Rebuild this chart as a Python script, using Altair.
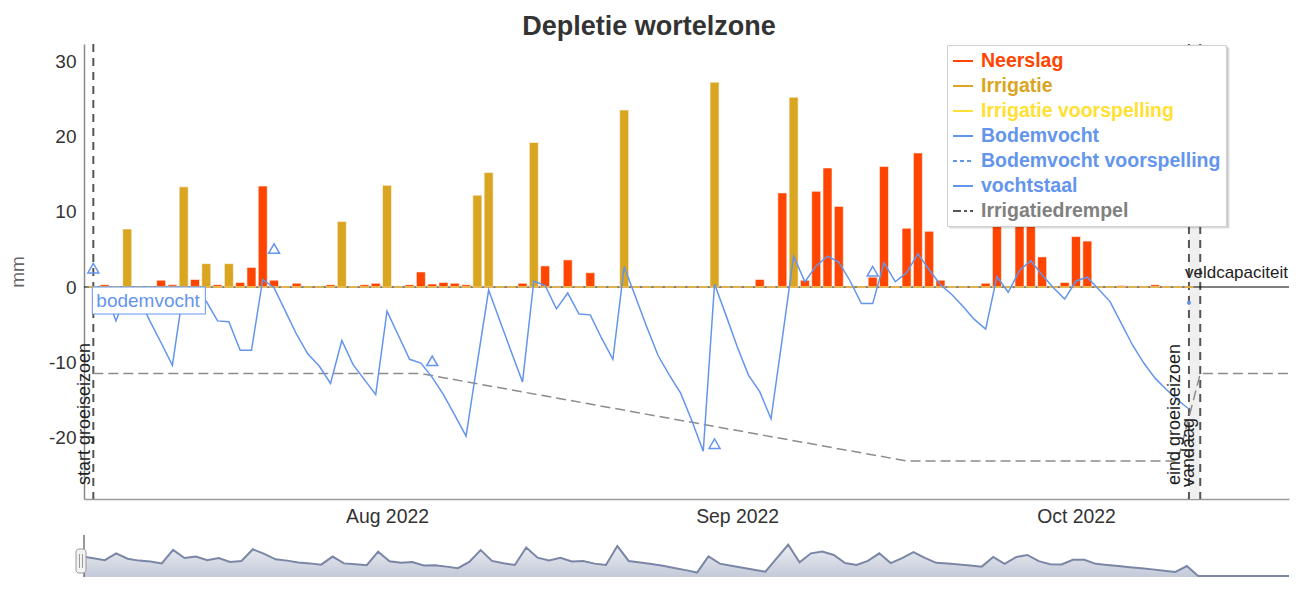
import altair as alt
import pandas as pd


def ms(d):
    return int(pd.Timestamp(d, tz="UTC").value // 10**6)


DAY = 86400000

# ---------------- data ----------------
season_days = [d.strftime("%Y-%m-%d") for d in pd.date_range("2022-07-06", "2022-10-11", freq="D")]

bodemvocht_jul = [-1.5, -0.3, -4.5, -0.7, -1.3, -4.5, -7.4, -10.4, -0.2, -1.0, -1.9, -4.5, -4.6,
                  -8.4, -8.4, 1.0, -0.1, -3.2, -6.3, -8.9, -10.5, -12.8, -7.1, -10.3, -12.3, -14.3]
bodemvocht_aug = [-3.2, -6.4, -9.6, -10.1, -12.0, -14.3, -17.0, -19.8, -10.0, -0.4, -4.5, -8.6,
                  -12.6, 0.8, 0.2, -2.9, -0.8, -3.6, -3.7, -6.8, -9.6, 2.7, -1.3, -5.3, -9.1,
                  -11.7, -14.1, -17.8, -21.8, 0.4, -3.7]
bodemvocht_sep = [-7.9, -11.7, -13.9, -17.5, -6.8, 4.1, 0.7, 2.8, 4.1, 3.3, 0.8, -2.2, -2.2, 3.2,
                  0.7, 1.9, 4.4, 2.3, 0.3, -1.0, -2.6, -4.3, -5.6, 1.4, -0.7, 2.2, 3.5, 1.6, -0.1, -1.6]
bodemvocht_oct = [0.8, 1.3, -0.3, -1.9, -4.8, -7.7, -10.1, -12.1, -13.6, -15.0, -16.2]
bodemvocht_mm = bodemvocht_jul + bodemvocht_aug + bodemvocht_sep + bodemvocht_oct

neerslag_dates = ["2022-07-07", "2022-07-12", "2022-07-13", "2022-07-15", "2022-07-17", "2022-07-19",
                  "2022-07-20", "2022-07-21", "2022-07-22", "2022-07-24", "2022-07-27", "2022-07-30",
                  "2022-07-31", "2022-08-03", "2022-08-04", "2022-08-05", "2022-08-06", "2022-08-07",
                  "2022-08-08", "2022-08-13", "2022-08-15", "2022-08-17", "2022-08-19", "2022-09-03",
                  "2022-09-05", "2022-09-07", "2022-09-08", "2022-09-09", "2022-09-10", "2022-09-13",
                  "2022-09-14", "2022-09-16", "2022-09-17", "2022-09-18", "2022-09-19", "2022-09-23",
                  "2022-09-24", "2022-09-26", "2022-09-27", "2022-09-28", "2022-09-30", "2022-10-01",
                  "2022-10-02", "2022-10-05", "2022-10-08"]
neerslag_mm = [0.3, 0.9, 0.3, 1.0, 0.3, 0.6, 2.6, 13.4, 0.9, 0.5, 0.3, 0.3, 0.5, 0.3, 2.0, 0.4, 0.6,
               0.5, 0.3, 0.5, 2.8, 3.6, 1.9, 1.0, 12.5, 0.9, 12.7, 15.8, 10.7, 1.3, 16.0, 7.8, 17.8,
               7.4, 0.9, 0.5, 10.5, 9.0, 11.0, 4.0, 0.6, 6.7, 6.1, 0.2, 0.3]

irrigatie_dates = ["2022-07-09", "2022-07-14", "2022-07-16", "2022-07-18", "2022-07-28", "2022-08-01",
                   "2022-08-09", "2022-08-10", "2022-08-14", "2022-08-22", "2022-08-30", "2022-09-06"]
irrigatie_mm = [7.7, 13.3, 3.1, 3.1, 8.7, 13.5, 12.2, 15.2, 19.2, 23.5, 27.2, 25.2]

drempel_dates = ["2022-07-06", "2022-08-04", "2022-09-16", "2022-10-10", "2022-10-12", "2022-10-21"]
drempel_mm = [-11.5, -11.5, -23.1, -23.1, -11.5, -11.5]

vochtstaal_dates = ["2022-07-06", "2022-07-22", "2022-08-05", "2022-08-30", "2022-09-13"]
vochtstaal_mm = [2.5, 5.1, -9.8, -20.8, 2.1]

voorspelling_dates = ["2022-10-11"]
voorspelling_mm = [-2.1]

navigator_start = "2022-07-06"
navigator_values = [31, 28.5, 26.3, 34.7, 28, 25.7, 24.7, 22.3, 39, 29, 30.7, 26.3, 29, 24, 25.3,
                    39.7, 34, 27.3, 25.7, 23.3, 22.3, 20.7, 30.7, 22.3, 21.3, 20, 36.7, 25, 23, 24,
                    19.7, 20, 18.3, 16.3, 24, 38.7, 25.3, 22.5, 20.3, 42, 29.3, 26, 29.3, 24.7, 25.3,
                    22, 20.3, 43.7, 25.3, 23.5, 21.5, 19.3, 16.5, 14, 11, 31, 22, 19.5, 17, 14.5, 12,
                    28.7, 45.3, 23.7, 34.7, 37, 32.7, 22.7, 20.3, 25.3, 34.7, 22.7, 28.7, 36.3, 29,
                    23, 22.2, 21, 19.8, 18.3, 30.3, 21.7, 30, 32.7, 25, 21.3, 21, 26.7, 26.7, 21.7,
                    20.3, 19, 17.6, 16.2, 14.9, 13.2, 11.7, 19, 6.7, 6.7, 6.7, 6.7, 6.7, 6.7, 6.7,
                    6.7, 6.7]

marker_names = ["start groeiseizoen", "eind groeiseizoen", "vandaag"]
marker_dates = ["2022-07-06", "2022-10-11", "2022-10-12"]

legend_names = ["Neerslag", "Irrigatie", "Irrigatie voorspelling", "Bodemvocht",
                "Bodemvocht voorspelling", "vochtstaal", "Irrigatiedrempel"]
legend_colors = ["#FF4500", "#DAA520", "#FFE033", "#6495ED", "#6495ED", "#6495ED", "#808080"]
legend_symbol_colors = ["#FF4500", "#DAA520", "#FFE033", "#6495ED", "#6495ED", "#6495ED", "#555555"]

month_ticks = ["2022-08-01", "2022-09-01", "2022-10-01"]
y_ticks = [-20, -10, 0, 10, 20, 30]

# ---------------- layout ----------------
W, H = 1205, 455
NAV_H = 42
PX_DAY = 11.295
x0 = ms("2022-08-01") + (84 - 387) / PX_DAY * DAY
x1 = x0 + W / PX_DAY * DAY
NAV_PX_DAY = 11.39
nx0 = ms(navigator_start) + (84 - 82) / NAV_PX_DAY * DAY
nx1 = nx0 + W / NAV_PX_DAY * DAY

FONT = "Liberation Sans"
BLUE = "#6495ED"

xscale = alt.Scale(type="utc", domain=[x0, x1], padding=0)
yscale = alt.Scale(domain=[-28.15, 32.27], nice=False, zero=False)

# ---------------- tables ----------------
bars_df = pd.DataFrame({
    "date": [ms(d) for d in neerslag_dates] + [ms(d) for d in irrigatie_dates],
    "mm": neerslag_mm + irrigatie_mm,
    "series": ["Neerslag"] * len(neerslag_mm) + ["Irrigatie"] * len(irrigatie_mm),
})
zero_df = pd.DataFrame({"date": [ms(d) for d in season_days], "mm": [0.0] * len(season_days)})
bv_df = pd.DataFrame({"date": [ms(d) for d in season_days], "mm": bodemvocht_mm})
dr_df = pd.DataFrame({"date": [ms(d) for d in drempel_dates], "mm": drempel_mm})
vs_df = pd.DataFrame({"date": [ms(d) for d in vochtstaal_dates], "mm": vochtstaal_mm})
vp_df = pd.DataFrame({"date": [ms(d) for d in voorspelling_dates], "mm": voorspelling_mm})
mk_df = pd.DataFrame({"date": [ms(d) for d in marker_dates], "name": marker_names})
band_df = pd.DataFrame({"date": [ms(marker_dates[1])], "end": [ms(marker_dates[2])]})
veld_df = pd.DataFrame({"date": [ms(marker_dates[1])], "mm": [0.0]})
lab_df = pd.DataFrame({"date": [ms(season_days[0])], "mm": [0.0], "t": ["bodemvocht"]})
nav_df = pd.DataFrame({
    "date": [ms(d) for d in pd.date_range(navigator_start, periods=len(navigator_values), freq="D")],
    "v": navigator_values,
})


def ternary(names, vals):
    expr = "'%s'" % vals[-1]
    for n, v in reversed(list(zip(names[:-1], vals[:-1]))):
        expr = "datum.value === '%s' ? '%s' : (%s)" % (n, v, expr)
    return expr


dash_expr = ("datum.value === 'Bodemvocht voorspelling' ? [4,3] : "
             "(datum.value === 'Irrigatiedrempel' ? [8,3,3,3] : [1,0])")

legend = alt.Legend(
    orient="none", legendX=863, legendY=1, title=None,
    symbolType="stroke", symbolSize=400, symbolStrokeWidth=2,
    labelFontSize=19.5, labelFontWeight="bold", labelFont=FONT, labelLimit=500,
    labelOffset=7, rowPadding=4, padding=5,
    fillColor="white", strokeColor="#d0d0d0",
    labelColor={"expr": ternary(legend_names, legend_colors)},
    symbolStrokeColor={"expr": ternary(legend_names, legend_symbol_colors)},
    symbolDash={"expr": dash_expr},
)

xaxis = alt.Axis(values=[ms(d) for d in month_ticks], format="%b %Y", labelFontSize=19.4,
                 labelColor="#333333", labelFont=FONT, ticks=False, grid=False,
                 domainColor="#9a9a9a", domainWidth=1.5, labelPadding=8, title=None)
yaxis = alt.Axis(values=y_ticks, title="mm", titleFontSize=19, titleColor="#666666",
                 titleFontWeight="normal", titleFont=FONT, labelFontSize=19, labelColor="#333333",
                 labelFont=FONT, grid=False, ticks=False, domainColor="#8a8a8a", domainWidth=1.5,
                 labelPadding=8, titlePadding=21, labelExpr="'' + datum.value")

band = alt.Chart(band_df).mark_rect(color="#efefef").encode(
    x=alt.X("date:T", scale=xscale, axis=xaxis, title=None), x2="end:T",
    y=alt.value(0), y2=alt.value(H))

vlines = alt.Chart(mk_df).mark_rule(color="#555555", strokeWidth=2, strokeDash=[8, 6]).encode(
    x=alt.X("date:T", scale=xscale))

drempel = alt.Chart(dr_df).mark_line(color="#8c8c8c", strokeWidth=1.5, strokeDash=[10, 5],
                                     clip=True).encode(
    x=alt.X("date:T", scale=xscale), y=alt.Y("mm:Q", scale=yscale))

zero_rule = alt.Chart(veld_df).mark_rule(color="black", strokeWidth=1).encode(
    y=alt.Y("mm:Q", scale=yscale, axis=yaxis, title="mm"))

bars = alt.Chart(bars_df).mark_bar(size=9, stroke="white", strokeWidth=1, strokeOpacity=0.55).encode(
    x=alt.X("date:T", scale=xscale), y=alt.Y("mm:Q", scale=yscale),
    color=alt.Color("series:N", scale=alt.Scale(domain=legend_names, range=legend_colors),
                    legend=legend))

zero_seg = alt.Chart(zero_df).mark_rule(color="#E9B84C", strokeWidth=2, xOffset=-4.5,
                                        x2Offset=4.5, opacity=0.9).encode(
    x=alt.X("date:T", scale=xscale), x2="date:T", y=alt.Y("mm:Q", scale=yscale))

bv_line = alt.Chart(bv_df).mark_line(color=BLUE, strokeWidth=1.5).encode(
    x=alt.X("date:T", scale=xscale), y=alt.Y("mm:Q", scale=yscale))

tri = alt.Chart(vs_df).mark_point(shape="triangle-up", filled=False, color=BLUE, size=120,
                                  strokeWidth=1.5, opacity=1).encode(
    x=alt.X("date:T", scale=xscale), y=alt.Y("mm:Q", scale=yscale))

dot = alt.Chart(vp_df).mark_circle(color=BLUE, size=18, opacity=1).encode(
    x=alt.X("date:T", scale=xscale), y=alt.Y("mm:Q", scale=yscale))

lab_box = alt.Chart(lab_df).mark_rect(fill="white", stroke=BLUE, strokeWidth=1, xOffset=-1,
                                      x2Offset=112, y2Offset=27).encode(
    x=alt.X("date:T", scale=xscale), x2="date:T",
    y=alt.Y("mm:Q", scale=yscale), y2="mm:Q")

lab_txt = alt.Chart(lab_df).mark_text(align="left", baseline="middle", font=FONT, fontSize=19,
                                      color=BLUE, xOffset=3, yOffset=14).encode(
    x=alt.X("date:T", scale=xscale), y=alt.Y("mm:Q", scale=yscale), text="t:N")

veld_txt = alt.Chart(veld_df).mark_text(align="left", baseline="alphabetic", font=FONT,
                                        fontSize=17, color="#222222", xOffset=-4, yOffset=-9,
                                        text="veldcapaciteit").encode(
    x=alt.X("date:T", scale=xscale), y=alt.Y("mm:Q", scale=yscale))

vtexts = []
for i, off in enumerate([-3, -8.5, -6.5]):
    vtexts.append(
        alt.Chart(mk_df.iloc[[i]]).mark_text(angle=270, align="left", baseline="alphabetic",
                                             font=FONT, fontSize=18, color="#222222",
                                             xOffset=off).encode(
            x=alt.X("date:T", scale=xscale), y=alt.value(441 if i < 2 else 443), text="name:N"))

# soft shadow behind the legend box (decoration)
shadows = []
for k in (1, 2, 3):
    shadows.append(
        alt.Chart(veld_df).mark_rect(color="black", opacity=0.07).encode(
            x=alt.value(863 + k), x2=alt.value(1143 + k), y=alt.value(1 + k), y2=alt.value(182 + k)))

main = alt.layer(band, vlines, drempel, zero_rule, bars, zero_seg, bv_line, tri, dot,
                 lab_box, lab_txt, veld_txt, *vtexts, *shadows).properties(width=W, height=H)

# ---------------- navigator ----------------
nscale = alt.Scale(type="utc", domain=[nx0, nx1], padding=0)
nyscale = alt.Scale(domain=[5.5, 57.3], nice=False, zero=False)
nav_area = alt.Chart(nav_df).mark_area(
    clip=True,
    line={"color": "#7a86a6", "strokeWidth": 2},
    color=alt.Gradient(gradient="linear",
                       stops=[alt.GradientStop(color="#e3e6ee", offset=0),
                              alt.GradientStop(color="#a9b2c7", offset=1)],
                       x1=1, x2=1, y1=0, y2=1),
).encode(
    x=alt.X("date:T", scale=nscale, axis=None),
    y=alt.Y("v:Q", scale=nyscale, axis=None),
    y2=alt.Y2Datum(5.5),
)
nav_df0 = nav_df.iloc[[0]]
nav_line = alt.Chart(nav_df0).mark_rule(color="#333333", strokeWidth=1).encode(
    x=alt.value(0), y=alt.value(0), y2=alt.value(NAV_H))
nav_handle = alt.Chart(nav_df0).mark_rect(fill="#f2f2f2", stroke="#999999", strokeWidth=1,
                                          cornerRadius=3).encode(
    x=alt.value(-8), x2=alt.value(2), y=alt.value(14), y2=alt.value(38))
nav_g1 = alt.Chart(nav_df0).mark_rule(color="#999999", strokeWidth=1).encode(
    x=alt.value(-4.5), y=alt.value(19), y2=alt.value(33))
nav_g2 = alt.Chart(nav_df0).mark_rule(color="#999999", strokeWidth=1).encode(
    x=alt.value(-1.5), y=alt.value(19), y2=alt.value(33))

nav = alt.layer(nav_area, nav_line, nav_handle, nav_g1, nav_g2).properties(width=W, height=NAV_H)

chart = alt.vconcat(main, nav, spacing=8).properties(
    title=alt.TitleParams("Depletie wortelzone", fontSize=27, font=FONT, fontWeight="bold",
                          color="#333333", anchor="middle", offset=2),
    padding={"left": 0, "top": 5, "right": 0, "bottom": 0},
).configure(font=FONT).configure_view(stroke=None)

chart.save("out.html", embed_options={"renderer": "svg", "actions": False})
